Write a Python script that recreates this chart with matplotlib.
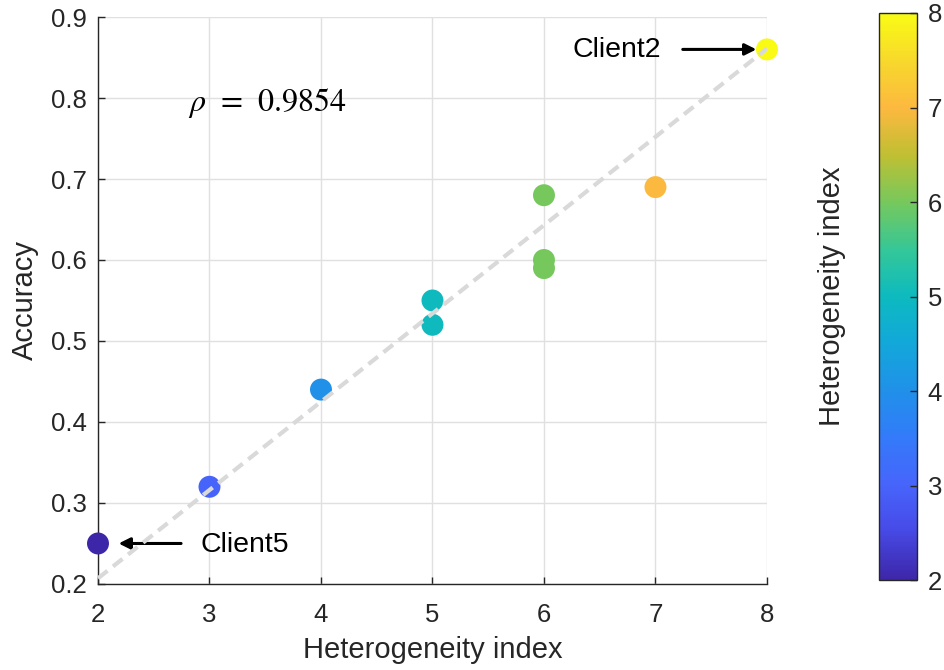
import numpy as np
import matplotlib
matplotlib.use("Agg")
import matplotlib.pyplot as plt
from matplotlib.colors import LinearSegmentedColormap

# ---- data ----
hetero_index = [2, 3, 4, 5, 5, 6, 6, 6, 7, 8]
accuracy = [0.25, 0.32, 0.44, 0.55, 0.52, 0.68, 0.60, 0.59, 0.69, 0.86]
fit_x = [2, 8]
fit_y = [0.207, 0.861]
rho_text = r"$\rho\;\,=\;\,0.9854$"
x_ticks = [2, 3, 4, 5, 6, 7, 8]
y_ticks = [0.2, 0.3, 0.4, 0.5, 0.6, 0.7, 0.8, 0.9]
cbar_ticks = [2, 3, 4, 5, 6, 7, 8]

# parula-like colormap
parula_anchors = [
    (0.000, (0.2422, 0.1504, 0.6603)),
    (0.090, (0.2780, 0.2950, 0.9100)),
    (0.167, (0.2803, 0.3935, 0.9844)),
    (0.250, (0.2000, 0.4800, 0.9800)),
    (0.333, (0.1270, 0.5658, 0.9143)),
    (0.420, (0.0700, 0.6600, 0.8500)),
    (0.500, (0.0500, 0.7300, 0.7500)),
    (0.580, (0.2000, 0.7800, 0.6000)),
    (0.667, (0.4640, 0.7860, 0.3633)),
    (0.750, (0.7500, 0.7500, 0.2000)),
    (0.833, (0.9893, 0.7239, 0.2500)),
    (0.917, (0.9700, 0.8500, 0.1700)),
    (1.000, (0.9769, 0.9839, 0.0805)),
]
parula = LinearSegmentedColormap.from_list("parula", parula_anchors, N=256)

plt.rcParams['font.family'] = ['Liberation Sans', 'DejaVu Sans']
dark = (0.15, 0.15, 0.15)

fig = plt.figure(figsize=(9.45, 6.70), dpi=100)
ax = fig.add_axes([0.1037, 0.1284, 0.7079, 0.8462])
cax = fig.add_axes([0.930, 0.1343, 0.040, 0.8463])

sc = ax.scatter(hetero_index, accuracy, c=hetero_index, cmap=parula,
                vmin=2, vmax=8, s=250, edgecolors='none', zorder=3,
                clip_on=False)
ln, = ax.plot(fit_x, fit_y, color=(0.85, 0.85, 0.85), lw=3, zorder=4)
ln.set_dashes((2.9, 1.7))

ax.set_xlim(2, 8)
ax.set_ylim(0.2, 0.9)
ax.set_xticks(x_ticks)
ax.set_yticks(y_ticks)
ax.set_yticklabels([f"{v:.1f}" for v in y_ticks])
ax.grid(True, color=(0.88, 0.88, 0.88), lw=1)
ax.set_axisbelow(True)
for s in ['top', 'right']:
    ax.spines[s].set_visible(False)
for s in ['left', 'bottom']:
    ax.spines[s].set_color(dark)
    ax.spines[s].set_linewidth(1)
ax.tick_params(direction='in', length=5, width=1, colors=dark,
               labelsize=18.5, labelcolor=dark)
ax.tick_params(axis='x', pad=14)
ax.tick_params(axis='y', pad=8)
ax.set_xlabel("Heterogeneity index", fontsize=21, color=dark, labelpad=6)
ax.set_ylabel("Accuracy", fontsize=21, color=dark, labelpad=9)

ax.text(2.81, 0.794, rho_text, fontsize=23, math_fontfamily='stix',
        ha='left', va='center', color='black')

ax.annotate("", xy=(7.93, 0.86), xytext=(7.22, 0.86),
            arrowprops=dict(arrowstyle='-|>', color='black', lw=2.2,
                            mutation_scale=17))
ax.text(6.26, 0.859, "Client2", fontsize=20.5, ha='left', va='center',
        color='black')
ax.annotate("", xy=(2.16, 0.25), xytext=(2.77, 0.25),
            arrowprops=dict(arrowstyle='-|>', color='black', lw=2.2,
                            mutation_scale=17))
ax.text(2.915, 0.248, "Client5", fontsize=20.5, ha='left', va='center',
        color='black')

cb = fig.colorbar(sc, cax=cax, ticks=cbar_ticks)
cb.outline.set_edgecolor(dark)
cb.outline.set_linewidth(1)
cax.tick_params(direction='in', length=5, width=1, colors=dark,
                labelsize=18.5, labelcolor=dark, pad=8)
cb.set_label("Heterogeneity index", fontsize=21, color=dark, labelpad=24)
cax.yaxis.set_label_position('left')

fig.savefig("out.png", dpi=100)
